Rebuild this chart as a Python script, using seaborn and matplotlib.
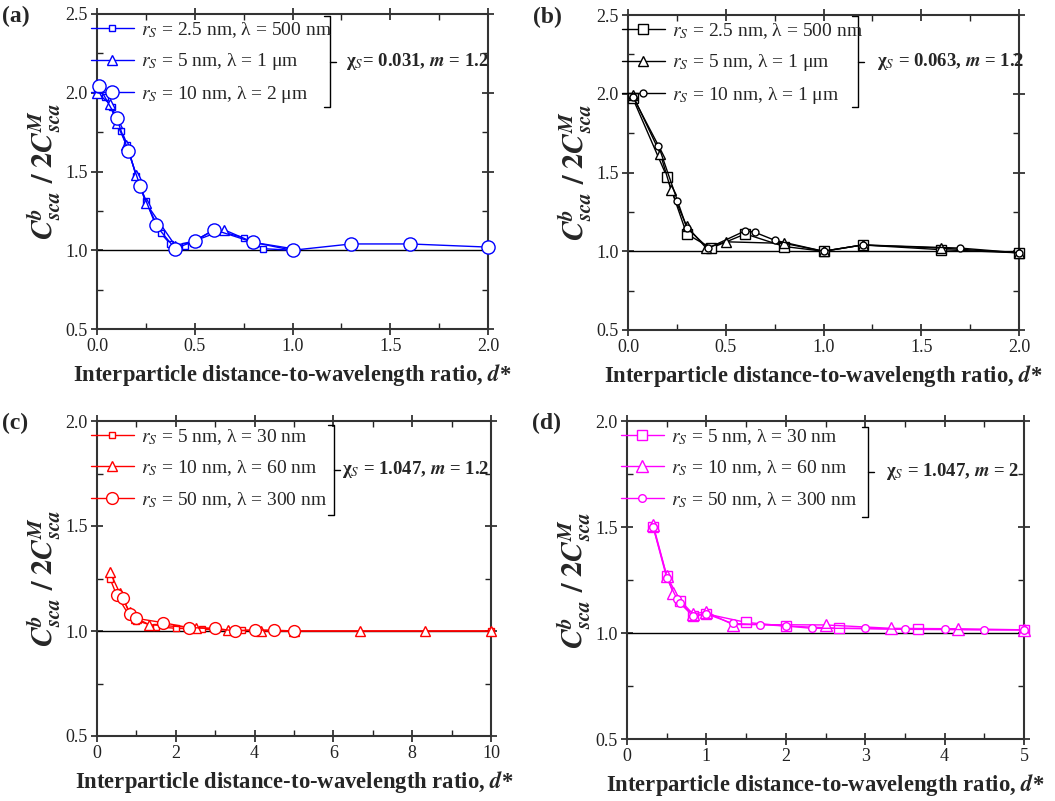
import matplotlib
matplotlib.use("Agg")
import matplotlib.pyplot as plt
from matplotlib.ticker import MultipleLocator, FormatStrFormatter
import numpy as np
import pandas as pd
import seaborn as sns

sns.set_theme(style="ticks")
plt.rcParams["font.family"] = ["Liberation Serif", "DejaVu Serif"]
plt.rcParams["mathtext.fontset"] = "stix"

# ---------------- data: (a) chi_s = 0.031, m = 1.2 ----------------
a_sq_d = [0.0, 0.04, 0.075, 0.1, 0.125, 0.155, 0.2, 0.25, 0.325, 0.375, 0.45, 0.5, 0.6, 0.75, 0.85, 1.0]
a_sq_v = [1.99, 1.97, 1.91, 1.84, 1.76, 1.67, 1.47, 1.31, 1.11, 1.04, 1.03, 1.06, 1.13, 1.08, 1.01, 1.0]
a_tr_d = [0.0, 0.065, 0.1, 0.15, 0.2, 0.25, 0.4, 0.5, 0.65, 0.8, 1.0]
a_tr_v = [2.0, 1.93, 1.81, 1.67, 1.48, 1.30, 1.03, 1.06, 1.13, 1.05, 1.01]
a_ci_d = [0.01, 0.1, 0.16, 0.22, 0.3, 0.4, 0.5, 0.6, 0.8, 1.0, 1.3, 1.6, 2.0]
a_ci_v = [2.04, 1.84, 1.63, 1.41, 1.16, 1.01, 1.06, 1.13, 1.05, 1.0, 1.04, 1.04, 1.02]
a_labels = [r"$r_S$ = 2.5 nm, λ = 500 nm", r"$r_S$ = 5 nm, λ = 1 μm", r"$r_S$ = 10 nm, λ = 2 μm"]

# ---------------- data: (b) chi_s = 0.063, m = 1.2 ----------------
b_sq_d = [0.025, 0.2, 0.3, 0.425, 0.6, 0.8, 1.0, 1.2, 1.6, 2.0]
b_sq_v = [1.97, 1.47, 1.11, 1.02, 1.11, 1.03, 1.0, 1.04, 1.01, 0.99]
b_tr_d = [0.025, 0.165, 0.22, 0.3, 0.4, 0.5, 0.8, 1.0, 1.2, 1.6, 2.0]
b_tr_v = [1.99, 1.62, 1.39, 1.16, 1.02, 1.06, 1.05, 1.0, 1.04, 1.02, 0.99]
b_ci_d = [0.025, 0.156, 0.253, 0.3, 0.41, 0.6, 0.65, 0.75, 1.0, 1.2, 1.7, 2.0]
b_ci_v = [1.98, 1.67, 1.32, 1.15, 1.02, 1.13, 1.12, 1.07, 1.0, 1.04, 1.02, 0.99]
b_labels = [r"$r_S$ = 2.5 nm, λ = 500 nm", r"$r_S$ = 5 nm, λ = 1 μm", r"$r_S$ = 10 nm, λ = 1 μm"]

# ---------------- data: (c) chi_s = 1.047, m = 1.2 ----------------
c_sq_d = [0.33, 0.5, 0.83, 1.0, 1.5, 2.0, 2.67, 3.67, 5.0, 10.0]
c_sq_v = [1.25, 1.17, 1.07, 1.05, 1.02, 1.013, 1.008, 1.004, 1.0, 1.0]
c_tr_d = [0.33, 0.58, 0.83, 1.0, 1.33, 2.5, 3.33, 4.17, 5.0, 6.67, 8.33, 10.0]
c_tr_v = [1.28, 1.18, 1.09, 1.06, 1.03, 1.016, 1.005, 1.0, 1.0, 1.0, 1.0, 1.0]
c_ci_d = [0.5, 0.67, 0.83, 1.0, 1.67, 2.33, 3.0, 3.5, 4.0, 4.5, 5.0]
c_ci_v = [1.17, 1.155, 1.08, 1.06, 1.04, 1.016, 1.013, 1.0, 1.005, 1.004, 1.0]
c_labels = [r"$r_S$ = 5 nm, λ = 30 nm", r"$r_S$ = 10 nm, λ = 60 nm", r"$r_S$ = 50 nm, λ = 300 nm"]

# ---------------- data: (d) chi_s = 1.047, m = 2 ----------------
d_sq_d = [0.33, 0.5, 0.67, 0.83, 1.0, 1.5, 2.0, 2.67, 3.67, 5.0]
d_sq_v = [1.50, 1.27, 1.15, 1.08, 1.09, 1.05, 1.033, 1.022, 1.017, 1.015]
d_tr_d = [0.33, 0.5, 0.58, 0.83, 1.0, 1.33, 2.5, 3.33, 4.17, 5.0]
d_tr_v = [1.51, 1.27, 1.19, 1.09, 1.10, 1.04, 1.038, 1.022, 1.02, 1.015]
d_ci_d = [0.33, 0.5, 0.63, 0.67, 0.83, 1.0, 1.33, 1.67, 2.0, 2.33, 3.0, 3.5, 4.0, 4.5, 5.0]
d_ci_v = [1.50, 1.26, 1.16, 1.14, 1.08, 1.09, 1.045, 1.04, 1.033, 1.022, 1.022, 1.017, 1.017, 1.015, 1.015]
d_labels = [r"$r_S$ = 5 nm, λ = 30 nm", r"$r_S$ = 10 nm, λ = 60 nm", r"$r_S$ = 50 nm, λ = 300 nm"]

W, H = 1055, 801
fig = plt.figure(figsize=(W / 100, H / 100), dpi=100)


def add_axes_px(left, right, top, bottom):
    return fig.add_axes([left / W, 1 - bottom / H, (right - left) / W, (bottom - top) / H])


panels = [
    dict(box=(97, 488, 14, 329), tag="(a)", color="#0000ff",
         series=[(a_sq_d, a_sq_v, "s", 5), (a_tr_d, a_tr_v, "^", 6.5), (a_ci_d, a_ci_v, "o", 9.5)],
         labels=a_labels, xlim=(0, 2), ylim=(0.5, 2.5), xmaj=0.5, xmin=0.25, xfmt="%.1f",
         note=r"χ$_{\mathit{S}}$= 0.031, $\mathbfit{m}$ = 1.2", bracket_x=330, note_x=346,
         brk=(16, 107)),
    dict(box=(628, 1019, 15, 330), tag="(b)", color="#000000",
         series=[(b_sq_d, b_sq_v, "s", 6.5), (b_tr_d, b_tr_v, "^", 7.5), (b_ci_d, b_ci_v, "o", 5)],
         labels=b_labels, xlim=(0, 2), ylim=(0.5, 2.5), xmaj=0.5, xmin=0.25, xfmt="%.1f",
         note=r"χ$_{\mathit{S}}$ = 0.063, $\mathbfit{m}$ = 1.2", bracket_x=858, note_x=877,
         brk=(16, 107)),
    dict(box=(97, 491, 421, 736), tag="(c)", color="#ff0000",
         series=[(c_sq_d, c_sq_v, "s", 4.5), (c_tr_d, c_tr_v, "^", 6.5), (c_ci_d, c_ci_v, "o", 8.5)],
         labels=c_labels, xlim=(0, 10), ylim=(0.5, 2.0), xmaj=2, xmin=1, xfmt="%d",
         note=r"χ$_{\mathit{S}}$ = 1.047, $\mathbfit{m}$ = 1.2", bracket_x=334, note_x=342,
         brk=(425, 515)),
    dict(box=(627, 1024, 421, 739), tag="(d)", color="#ff00ff",
         series=[(d_sq_d, d_sq_v, "s", 7), (d_tr_d, d_tr_v, "^", 8), (d_ci_d, d_ci_v, "o", 5.5)],
         labels=d_labels, xlim=(0, 5), ylim=(0.5, 2.0), xmaj=1, xmin=0.5, xfmt="%d",
         note=r"χ$_{\mathit{S}}$ = 1.047, $\mathbfit{m}$ = 2", bracket_x=868, note_x=886,
         brk=(427, 517)),
]

ylabel = (r"$\mathbfit{C}_{\mathbfit{sca}}^{\mathbfit{b}}$ $\mathbf{/}$ "
          r"$\mathbf{2}\mathbfit{C}_{\mathbfit{sca}}^{\mathbfit{M}}$")
xlabel = r"Interparticle distance-to-wavelength ratio, $\mathbfit{d}$*"

for p in panels:
    left, right, top, bottom = p["box"]
    ax = add_axes_px(left, right, top, bottom)
    col = p["color"]

    # reference line at unity
    ax.axhline(1.0, color="black", lw=1.0, zorder=1)

    for (xd, yd, mk, ms), lab in zip(p["series"], p["labels"]):
        df = pd.DataFrame({"d": xd, "ratio": yd})
        sns.lineplot(data=df, x="d", y="ratio", ax=ax, color=col, lw=1.0,
                     marker=mk, markersize=ms, markerfacecolor="white",
                     markeredgecolor=col, markeredgewidth=1.0,
                     estimator=None, sort=False, label=lab, clip_on=False, zorder=3)

    ax.set_xlim(*p["xlim"])
    ax.set_ylim(*p["ylim"])
    ax.xaxis.set_major_locator(MultipleLocator(p["xmaj"]))
    ax.xaxis.set_minor_locator(MultipleLocator(p["xmin"]))
    ax.yaxis.set_major_locator(MultipleLocator(0.5))
    ax.yaxis.set_minor_locator(MultipleLocator(0.25))
    ax.xaxis.set_major_formatter(FormatStrFormatter(p["xfmt"]))
    ax.yaxis.set_major_formatter(FormatStrFormatter("%.1f"))
    ax.tick_params(which="both", top=True, right=True, labelsize=13, colors="#222222",
                   labelcolor="#222222")
    ax.tick_params(which="major", direction="inout", length=9, width=1.2, pad=2)
    ax.tick_params(which="minor", direction="in", length=4, width=1.0)
    for s in ax.spines.values():
        s.set_color("#333333")
        s.set_linewidth(1.5)

    ax.set_xlabel(xlabel, fontsize=16.3, fontweight="bold", labelpad=5)
    ax.set_ylabel(ylabel, fontsize=21.5, labelpad=2)

    leg = ax.legend(loc="upper left", bbox_to_anchor=(-0.03, 1.0), frameon=False,
                    fontsize=14, handlelength=2.2, handletextpad=0.35, labelspacing=0.6,
                    borderaxespad=0.0, borderpad=0.3)

    # bracket grouping the legend entries, with the shared parameter note
    w_px = right - left
    h_px = bottom - top
    fx = lambda px: (px - left) / w_px
    fy = lambda py: (bottom - py) / h_px
    bx = p["bracket_x"]
    y0, y1 = p["brk"]
    ym = 0.5 * (y0 + y1)
    kw = dict(color="black", lw=1.0, transform=ax.transAxes, clip_on=False)
    ax.plot([fx(bx - 6), fx(bx), fx(bx), fx(bx - 6)], [fy(y0), fy(y0), fy(y1), fy(y1)], **kw)
    ax.plot([fx(bx), fx(bx + 6)], [fy(ym), fy(ym)], **kw)
    ax.text(fx(p["note_x"]), fy(ym), p["note"], transform=ax.transAxes, fontsize=13.5,
            fontweight="bold", ha="left", va="center")

    fig.text((left - 97) / W + 2 / W, 1 - (top + 2) / H, p["tag"], fontsize=17,
             fontweight="bold", ha="left", va="center")

fig.savefig("out.png", dpi=100)
